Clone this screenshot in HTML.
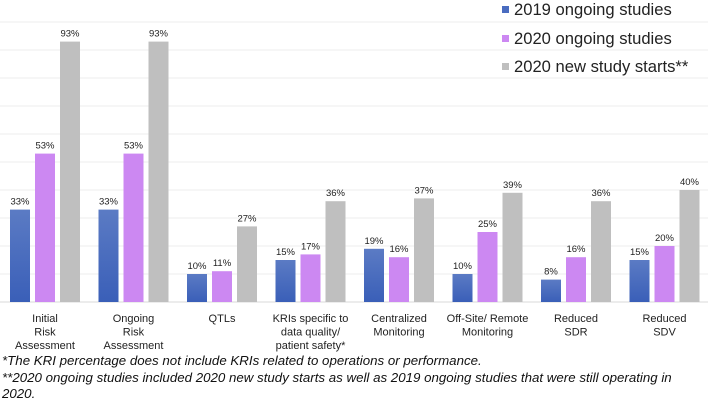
<!DOCTYPE html>
<html><head><meta charset="utf-8"><style>
body{margin:0;background:#fff;}
svg{display:block;font-family:"Liberation Sans",sans-serif;}
.foot{font-style:italic;font-size:13.3px;fill:#111;}
</style></head><body>
<svg width="708" height="401">
<defs>
<linearGradient id="gb" x1="0" y1="0" x2="0" y2="1"><stop offset="0" stop-color="#5b7bc4"/><stop offset="1" stop-color="#3a5fb8"/></linearGradient>
</defs>
<g id="grid"></g><g id="bars"></g><g id="labels"></g>
<g>
<rect x="502" y="6" width="7" height="7" fill="#4a6cc0"/><text x="514" y="15" font-size="16.6" fill="#222">2019 ongoing studies</text>
<rect x="502" y="35" width="7" height="7" fill="#cc88f2"/><text x="514" y="44" font-size="16.6" fill="#222">2020 ongoing studies</text>
<rect x="502" y="63" width="7" height="7" fill="#bfbfbf"/><text x="514" y="72" font-size="16.6" fill="#222">2020 new study starts**</text>
</g>
<text class="foot" x="2" y="365">*The KRI percentage does not include KRIs related to operations or performance.</text>
<text class="foot" x="2" y="382">**2020 ongoing studies included 2020 new study starts as well as 2019 ongoing studies that were still operating in</text>
<text class="foot" x="2" y="398">2020.</text>
</svg>
<script>
const categories=[["Initial","Risk","Assessment"],["Ongoing","Risk","Assessment"],["QTLs"],["KRIs specific to","data quality/","patient safety*"],["Centralized","Monitoring"],["Off-Site/ Remote","Monitoring"],["Reduced","SDR"],["Reduced","SDV"]];
const s2019=[33,33,10,15,19,10,8,15];
const s2020=[53,53,11,17,16,25,16,20];
const sNew=[93,93,27,36,37,39,36,40];
const gridTicks=[0,10,20,30,40,50,60,70,80,90,100];
const NS="http://www.w3.org/2000/svg";
const base=302, top0=22;
const y=v=>base-(v/100)*(base-top0);
const cx=i=>45+88.5*i;
const grid=document.getElementById('grid'),bars=document.getElementById('bars'),labels=document.getElementById('labels');
gridTicks.forEach(t=>{const l=document.createElementNS(NS,'line');
l.setAttribute('x1',0);l.setAttribute('x2',708);l.setAttribute('y1',y(t));l.setAttribute('y2',y(t));
l.setAttribute('stroke',t===0?'#d9d9d9':'#eeeeee');l.setAttribute('stroke-width',1);


grid.appendChild(l);});
const series=[[s2019,'url(#gb)','2019'],[s2020,'#cc88f2','2020'],[sNew,'#bfbfbf','new']];
categories.forEach((c,i)=>{
 series.forEach((s,k)=>{
  const v=s[0][i];const x=cx(i)-35+25*k;
  const r=document.createElementNS(NS,'rect');
  r.setAttribute('x',x);r.setAttribute('width',20);r.setAttribute('y',y(v));r.setAttribute('height',base-y(v));r.setAttribute('fill',s[1]);
  
  
  bars.appendChild(r);
  const t=document.createElementNS(NS,'text');
  t.setAttribute('x',x+10);t.setAttribute('y',y(v)-5);t.setAttribute('text-anchor','middle');t.setAttribute('font-size','9.5');t.setAttribute('fill','#222');
  t.textContent=v+'%';
  
  
  bars.appendChild(t);
 });
 c.forEach((line,j)=>{const t=document.createElementNS(NS,'text');
  t.setAttribute('x',cx(i));t.setAttribute('y',322+13.5*j);t.setAttribute('text-anchor','middle');t.setAttribute('font-size','11');t.setAttribute('fill','#222');
  t.textContent=line;
  
  
  labels.appendChild(t);});
});
</script>
</body></html>
